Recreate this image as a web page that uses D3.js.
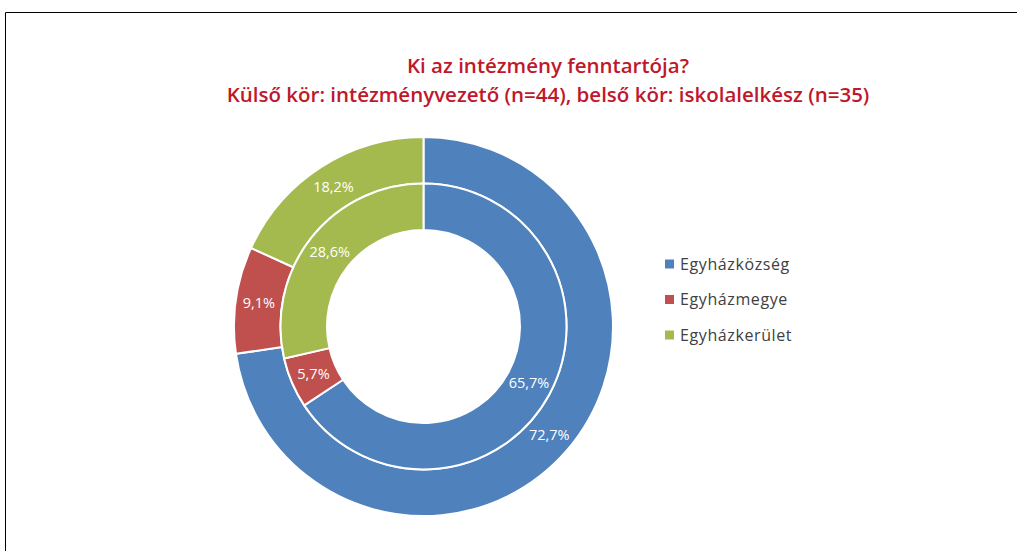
<!DOCTYPE html>
<html>
<head>
<meta charset="utf-8">
<script src="https://cdn.jsdelivr.net/npm/d3@7"></script>
<style>
  html, body { margin: 0; padding: 0; background: #fff; }
  svg { display: block; }
</style>
</head>
<body>
<svg id="chart" width="1017" height="551"></svg>
<script>
// Survey: who maintains the institution? Outer ring = heads (n=44), inner ring = chaplains (n=35)
const categories = ["Egyházközség", "Egyházmegye", "Egyházkerület"];
const outerValues = [72.7, 9.1, 18.2];
const innerValues = [65.7, 5.7, 28.6];
const colors = ["#4F81BD", "#C0504D", "#A4B94E"];
const titleLines = [
  "Ki az intézmény fenntartója?",
  "Külső kör: intézményvezető (n=44), belső kör: iskolalelkész (n=35)"
];

const svg = d3.select("#chart");
const font = "'Open Sans', sans-serif";

// frame
svg.append("path")
  .attr("d", "M5.5,560 V12.5 H1030")
  .attr("fill", "none")
  .attr("stroke", "#000")
  .attr("stroke-width", 1);

// title
svg.append("g").selectAll("text")
  .data(titleLines)
  .join("text")
  .attr("x", 548)
  .attr("y", (d, i) => 73 + i * 29)
  .attr("text-anchor", "middle")
  .attr("font-family", font)
  .attr("font-size", 20.5)
  .attr("font-weight", 600)
  .attr("fill", "#C0182A")
  .text(d => d);

const cx = 423.5, cy = 326.5;
const color = d3.scaleOrdinal().domain(categories).range(colors);
const pie = d3.pie().sort(null).value(d => d.value);
const fmt = v => d3.format(".1f")(v).replace(".", ",") + "%";

const rings = [
  { values: outerValues, r0: 143, r1: 189.5 },
  { values: innerValues, r0: 96.5, r1: 143 }
];

const g = svg.append("g").attr("transform", `translate(${cx},${cy})`);

rings.forEach(ring => {
  const data = pie(categories.map((c, i) => ({ cat: c, value: ring.values[i] })));
  const arc = d3.arc().innerRadius(ring.r0).outerRadius(ring.r1);
  const rg = g.append("g");
  rg.selectAll("path")
    .data(data)
    .join("path")
    .attr("d", arc)
    .attr("fill", d => color(d.data.cat))
    .attr("stroke", "#fff")
    .attr("stroke-width", 2)
    .attr("stroke-linejoin", "round");
  rg.selectAll("text")
    .data(data)
    .join("text")
    .attr("transform", d => `translate(${arc.centroid(d)})`)
    .attr("text-anchor", "middle")
    .attr("dy", "0.35em")
    .attr("font-family", font)
    .attr("font-size", 14.5)
    .attr("font-weight", 500)
    .attr("fill", "#fff")
    .text(d => fmt(d.data.value));
});

// legend
const legend = svg.append("g").attr("transform", "translate(665,264)");
const item = legend.selectAll("g")
  .data(categories)
  .join("g")
  .attr("transform", (d, i) => `translate(0,${i * 35.5})`);
item.append("rect")
  .attr("x", 0).attr("y", -4.5)
  .attr("width", 9).attr("height", 9)
  .attr("fill", d => color(d));
item.append("text")
  .attr("x", 15).attr("y", 0)
  .attr("dy", "0.35em")
  .attr("font-family", font)
  .attr("font-size", 16)
  .attr("letter-spacing", 0.6)
  .attr("fill", "#404040")
  .text(d => d);
</script>
</body>
</html>
